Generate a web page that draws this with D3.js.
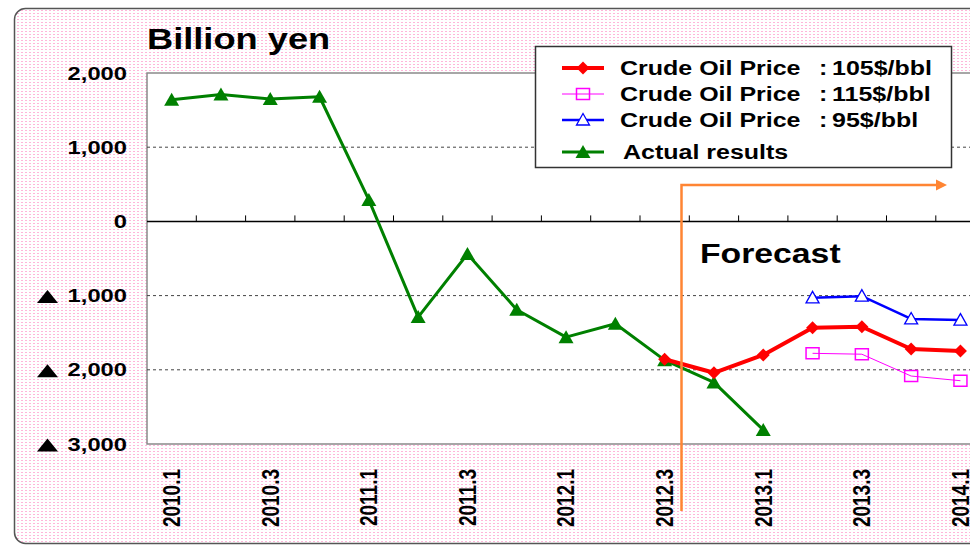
<!DOCTYPE html>
<html>
<head>
<meta charset="utf-8">
<script src="https://cdn.jsdelivr.net/npm/d3@7"></script>
<style>
  body { margin: 0; background: #fff; }
  svg { display: block; font-family: "Liberation Sans", Arial, sans-serif; }
</style>
</head>
<body>
<div id="chart"></div>
<script>
// quarters shown on the x axis
var quarters = ["2010.1", "2010.2", "2010.3", "2010.4", "2011.1", "2011.2", "2011.3", "2011.4",
  "2012.1", "2012.2", "2012.3", "2012.4", "2013.1", "2013.2", "2013.3", "2013.4", "2014.1"];
var quarterLabels = ["2010.1", "2010.3", "2011.1", "2011.3", "2012.1", "2012.3", "2013.1", "2013.3", "2014.1"];
var yTicks = [2000, 1000, 0, -1000, -2000, -3000];
var gridValues = [1000, -1000, -2000];

// billion yen, null = no value
var actual = [1640, 1710, 1650, 1680, 290, -1290, -440, -1190, -1560, -1380, -1870, -2170, -2810,
  null, null, null, null];
var oil105 = [null, null, null, null, null, null, null, null, null, null,
  -1858, -2040, -1800, -1432, -1420, -1720, -1747];
var oil115 = [null, null, null, null, null, null, null, null, null, null,
  null, null, null, -1778, -1790, -2084, -2147];
var oil95 = [null, null, null, null, null, null, null, null, null, null,
  null, null, null, -1030, -1008, -1315, -1330];

var legendNames = ["Crude Oil Price", "Crude Oil Price", "Crude Oil Price", "Actual results"];
var legendValues = ["105$/bbl", "115$/bbl", "95$/bbl", ""];

var width = 970, height = 545;
var plotLeft = 147, plotTop = 73, plotBottom = 444;
var band = 49.3;
var sx = 1.25; // glyphs in the picture are wider than they are tall

var svg = d3.select("#chart").append("svg")
  .attr("width", width).attr("height", height);

// pink dotted background
var defs = svg.append("defs");
var pat = defs.append("pattern").attr("id", "dots")
  .attr("width", 4).attr("height", 3).attr("patternUnits", "userSpaceOnUse");
pat.append("rect").attr("width", 4).attr("height", 3).attr("fill", "#fff");
pat.append("rect").attr("x", 1).attr("y", 1).attr("width", 2).attr("height", 1).attr("fill", "#ffb6da");

svg.append("rect")
  .attr("x", 14.5).attr("y", 8.5).attr("width", 1000).attr("height", 535)
  .attr("rx", 11)
  .attr("fill", "url(#dots)")
  .attr("stroke", "#555").attr("stroke-width", 1.5);

var x = d3.scaleBand().domain(quarters).range([plotLeft, plotLeft + band * quarters.length]);
var y = d3.scaleLinear().domain([-3000, 2000]).range([plotBottom, plotTop]);

function cx(q) { return x(q) + x.bandwidth() / 2; }

// plot area
svg.append("rect")
  .attr("x", plotLeft).attr("y", plotTop)
  .attr("width", x.range()[1] - plotLeft).attr("height", plotBottom - plotTop)
  .attr("fill", "#fff")
  .attr("stroke", "#8a8a8a").attr("stroke-width", 1.5);

// dashed grid lines
svg.selectAll(".grid").data(gridValues).enter().append("line")
  .attr("x1", plotLeft).attr("x2", width)
  .attr("y1", function (d) { return y(d); })
  .attr("y2", function (d) { return y(d); })
  .attr("stroke", "#444").attr("stroke-width", 1)
  .attr("stroke-dasharray", "3,3");

// zero line with small ticks between quarters
svg.append("line")
  .attr("x1", plotLeft).attr("x2", width)
  .attr("y1", y(0)).attr("y2", y(0))
  .attr("stroke", "#000").attr("stroke-width", 1.5);
svg.selectAll(".qtick").data(quarters.slice(1)).enter().append("line")
  .attr("x1", function (d) { return x(d); })
  .attr("x2", function (d) { return x(d); })
  .attr("y1", y(0)).attr("y2", y(0) - 6)
  .attr("stroke", "#000").attr("stroke-width", 1);

// y axis labels, negatives get a black triangle in front
var fmt = d3.format(",");
var yAxis = svg.append("g")
  .attr("transform", "translate(" + plotLeft + ",0)")
  .call(d3.axisLeft(y).tickValues(yTicks).tickSize(0)
    .tickFormat(function (d) { return fmt(Math.abs(d)); }));
yAxis.select(".domain").remove();
yAxis.selectAll("text")
  .attr("x", -20 / sx)
  .attr("transform", "scale(" + sx + ",1)")
  .attr("fill", "#000")
  .style("font-size", "19px")
  .style("font-weight", "bold")
  .style("font-family", "'Liberation Sans', Arial, sans-serif");
yAxis.selectAll(".tick").filter(function (d) { return d < 0; })
  .append("path")
  .attr("d", "M-99.5,-6L-89,7L-110,7Z")
  .attr("fill", "#000");

// x axis labels, vertical
var xAxis = svg.append("g")
  .attr("transform", "translate(0," + plotBottom + ")")
  .call(d3.axisBottom(x).tickValues(quarterLabels).tickSize(0));
xAxis.select(".domain").remove();
xAxis.selectAll("text")
  .attr("x", -25).attr("y", 0).attr("dy", "0.35em")
  .attr("text-anchor", "end")
  .attr("transform", "rotate(-90) scale(1," + sx + ")")
  .attr("fill", "#000")
  .style("font-size", "19px")
  .style("font-weight", "bold")
  .style("font-family", "'Liberation Sans', Arial, sans-serif");

// markers
var triPath = "M0,-7L7.5,6L-7.5,6Z";
var triOpenPath = "M0,-6.5L6.5,5L-6.5,5Z";
var diamondPath = "M0,-6.5L6.5,0L0,6.5L-6.5,0Z";
var squarePath = "M-6.5,-5.5H6.5V5.5H-6.5Z";

var series = [
  { values: oil115, color: "#ff00ff", width: 1, marker: squarePath, fill: "none", mw: 1.5 },
  { values: oil95, color: "#0000ff", width: 2.5, marker: triOpenPath, fill: "#fff", mw: 1.3 },
  { values: actual, color: "#008000", width: 3, marker: triPath, fill: "#008000", mw: 0 },
  { values: oil105, color: "#ff0000", width: 4, marker: diamondPath, fill: "#ff0000", mw: 0 }
];

var line = d3.line()
  .defined(function (d) { return d.v !== null; })
  .x(function (d) { return cx(d.q); })
  .y(function (d) { return y(d.v); });

series.forEach(function (s) {
  var pts = quarters.map(function (q, i) { return { q: q, v: s.values[i] }; });
  svg.append("path")
    .datum(pts)
    .attr("d", line)
    .attr("fill", "none")
    .attr("stroke", s.color)
    .attr("stroke-width", s.width)
    .attr("stroke-linejoin", "round");
  svg.selectAll(null).data(pts.filter(function (d) { return d.v !== null; })).enter()
    .append("path")
    .attr("d", s.marker)
    .attr("transform", function (d) { return "translate(" + cx(d.q) + "," + y(d.v) + ")"; })
    .attr("fill", s.fill)
    .attr("stroke", s.mw ? s.color : "none")
    .attr("stroke-width", s.mw);
});

// forecast arrow
svg.append("path")
  .attr("d", "M681.5,511V185H938")
  .attr("fill", "none")
  .attr("stroke", "#ff8533").attr("stroke-width", 2.5);
svg.append("path")
  .attr("d", "M936,179.5L947,185L936,190.5Z")
  .attr("fill", "#ff8533");

function stretchText(x0, y0, str, size, weight) {
  return svg.append("text")
    .attr("transform", "translate(" + x0 + "," + y0 + ") scale(" + sx + ",1)")
    .attr("font-size", size)
    .attr("font-weight", weight || "bold")
    .attr("fill", "#000")
    .text(str);
}

stretchText(700, 263, "Forecast", 27, "bold");
stretchText(147, 48.5, "Billion yen", 29, "bold");

// legend
svg.append("rect")
  .attr("x", 535.5).attr("y", 46.5).attr("width", 416).attr("height", 121)
  .attr("fill", "#fff").attr("stroke", "#333").attr("stroke-width", 1.5);

var legendOrder = [3, 0, 1, 2]; // series index for each legend row
var rowY = [68, 94, 120, 152];
legendNames.forEach(function (name, i) {
  var s = series[legendOrder[i]];
  svg.append("line")
    .attr("x1", 562).attr("x2", 604)
    .attr("y1", rowY[i]).attr("y2", rowY[i])
    .attr("stroke", s.color).attr("stroke-width", s.width);
  svg.append("path")
    .attr("d", s.marker)
    .attr("transform", "translate(583," + rowY[i] + ")")
    .attr("fill", s.fill)
    .attr("stroke", s.mw ? s.color : "none")
    .attr("stroke-width", s.mw);
  stretchText(i === 3 ? 623 : 620, rowY[i] + 7, name, 20);
  if (legendValues[i]) {
    stretchText(819, rowY[i] + 7, ":", 20);
    stretchText(832, rowY[i] + 7, legendValues[i], 20);
  }
});
</script>
</body>
</html>
